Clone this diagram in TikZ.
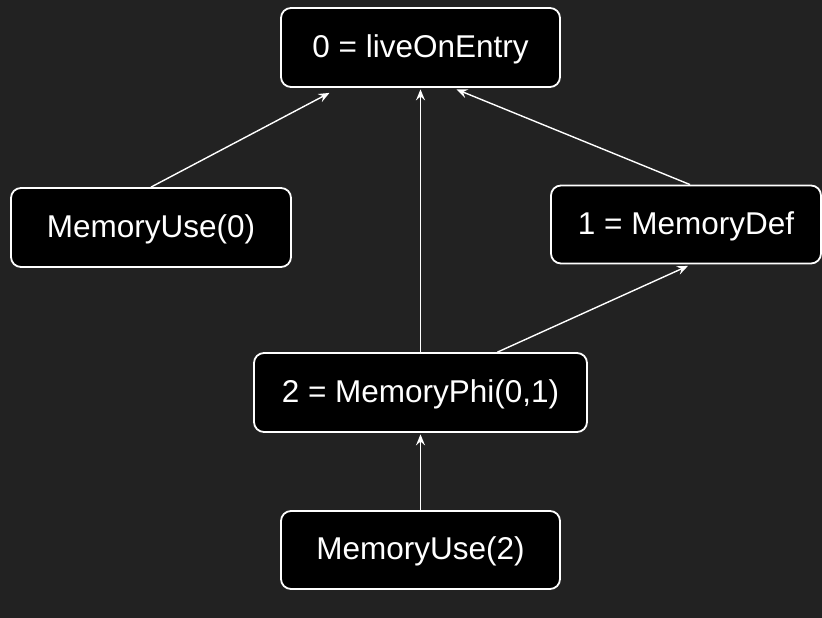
\documentclass[tikz,border=0pt]{standalone}
\usepackage{fontspec}
\setmainfont{Liberation Sans}
\usetikzlibrary{arrows.meta}
\definecolor{canvas}{HTML}{222222}
\begin{document}
\begin{tikzpicture}[x=1bp,y=-1bp,
  memnode/.style={draw=white, fill=black, line width=1.8bp, rounded corners=10bp,
    text=white, inner sep=0pt, text height=22.7bp, text depth=3bp,
    font=\fontsize{31.5bp}{36bp}\selectfont},
  link/.style={draw=white, line width=1.4bp,
    -{Stealth[length=11bp, width=9bp, inset=4bp]}}
]
  \fill[canvas] (0,0) rectangle (822,618);
  \useasboundingbox (0,0) rectangle (822,618);

  \node[memnode, minimum width=279bp, minimum height=79bp] (entry) at (420.5,47.5) {0 = liveOnEntry};
  \node[memnode, minimum width=280bp, minimum height=79bp] (use0) at (151,227.5) {MemoryUse(0)};
  \node[memnode, minimum width=270bp, minimum height=78bp] (def1) at (686,224.5) {1 = MemoryDef};
  \node[memnode, minimum width=333bp, minimum height=79bp] (phi) at (420.5,392.5) {2 = MemoryPhi(0,1)};
  \node[memnode, minimum width=279bp, minimum height=78bp] (use2) at (420.5,550) {MemoryUse(2)};

  \draw[link] (use0.north) -- ([xshift=-91bp, yshift=-5bp]entry.south);
  \draw[link] (phi.north) -- ([yshift=-1.5bp]entry.south);
  \draw[link] ([xshift=4bp]def1.north) -- ([xshift=36bp, yshift=-1.5bp]entry.south);
  \draw[link] ([xshift=77bp]phi.north) -- ([xshift=2bp, yshift=-1.5bp]def1.south);
  \draw[link] (use2.north) -- ([yshift=-1.5bp]phi.south);
\end{tikzpicture}
\end{document}
